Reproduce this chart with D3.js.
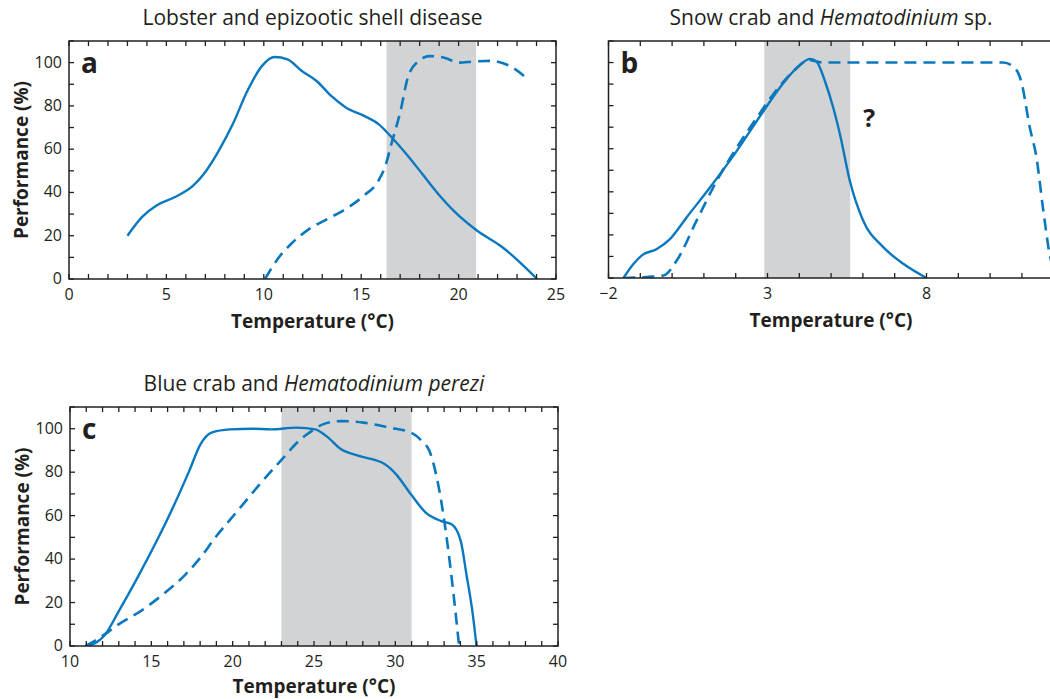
<!DOCTYPE html>
<html>
<head>
<meta charset="utf-8">
<script src="https://cdn.jsdelivr.net/npm/d3@7"></script>
<style>
  body { margin: 0; background: #fff; }
  svg { display: block; font-family: 'Open Sans', 'Noto Sans', sans-serif; }
</style>
</head>
<body>
<div id="chart"></div>
<script>
// panel a: lobster (solid) and epizootic shell disease (dashed)
const lobsterTemp = [3, 3.74, 4.49, 5.42, 6.36, 6.92, 7.67, 8.41, 9.16, 9.91, 10.56, 11.22, 11.97, 12.71, 13.46, 14.21, 15.15, 15.89, 16.64, 17.39, 18.14, 18.89, 19.82, 20.94, 22.25, 24.03];
const lobsterPerf = [20, 28.6, 34, 37.8, 43, 48.5, 59, 71.6, 87, 98.5, 102.6, 101.5, 96, 91.5, 84.6, 79.3, 75.4, 71.6, 64.7, 57, 48.5, 40, 30.9, 22.4, 14.7, 0];
const shellTemp = [10.06, 10.66, 11.41, 12.34, 13.28, 14.21, 15.15, 15.89, 16.27, 16.55, 17.02, 17.39, 17.95, 18.51, 19.26, 20.01, 20.76, 21.69, 22.62, 23.56];
const shellPerf = [0, 8.6, 16.3, 23.2, 27.8, 32.4, 38.6, 45.5, 53.1, 62.4, 77.7, 93, 100.8, 103, 102.3, 100, 100.5, 100.8, 98.5, 92.3];

// panel b: snow crab (solid) and Hematodinium sp. (dashed)
const snowTemp = [-1.53, -1.21, -0.95, -0.48, -0.06, 0.46, 1.19, 2.03, 2.87, 3.5, 4.02, 4.34, 4.54, 4.81, 5.07, 5.28, 5.59, 6.01, 6.64, 7.27, 8.0];
const snowPerf = [0, 6.6, 10.5, 13.5, 18.2, 28.2, 42, 58.9, 77.4, 90.5, 98.9, 101.7, 100.5, 91.2, 78.9, 66.6, 45, 26.6, 14.3, 6.6, 0];
const hemaTemp = [-1.53, -0.8, -0.27, 0.15, 0.77, 1.4, 2.03, 2.66, 3.29, 3.92, 4.28, 4.75, 6.22, 8.31, 10.41, 10.72, 10.98, 11.25, 11.46, 11.66, 11.87, 12.1];
const hemaPerf = [0, 0.5, 1.2, 8.2, 26.6, 45, 60.5, 74.3, 87.4, 97.4, 101.2, 100, 100, 100, 100, 98.2, 91.2, 69.7, 55.8, 32.8, 11.2, 0];

// panel c: blue crab (solid) and Hematodinium perezi (dashed)
const blueTemp = [10.96, 11.64, 12.1, 13.01, 14.15, 15.28, 16.42, 17.33, 18.02, 18.7, 19.84, 21.21, 22.35, 23.94, 25.08, 25.76, 26.67, 27.81, 29.36, 30.05, 30.96, 31.87, 32.78, 33.46, 34.02, 34.37, 34.76, 34.99];
const bluePerf = [0, 1.7, 4.7, 16.2, 31.5, 47.6, 65.2, 80.6, 92.8, 98.2, 99.7, 100, 99.7, 100.5, 99.7, 96.6, 90.5, 87.4, 83.6, 79, 69.8, 61.4, 57.6, 56, 48.4, 33, 14.7, 0];
const perezTemp = [10.96, 11.87, 13.01, 14.37, 15.74, 17.11, 18.02, 18.93, 20.3, 21.66, 23.03, 24.17, 24.85, 25.54, 26.67, 28.04, 29.63, 30.96, 31.64, 32.1, 32.55, 33.01, 33.46, 33.92];
const perezPerf = [0, 4, 10.1, 16.2, 23.9, 33, 40.7, 49.9, 62.2, 74.4, 85.9, 95.1, 98.9, 102, 103.5, 102.8, 100.5, 98.2, 94.3, 89.7, 77.5, 57.6, 31.5, 0];

const xDomains = { a: [0, 25], b: [-2, 12.5], c: [10, 40] };
const xLabelTicks = { a: [0, 5, 10, 15, 20, 25], b: [-2, 3, 8], c: [10, 15, 20, 25, 30, 35, 40] };
const yDomain = [0, 110];
const yLabelTicks = [0, 20, 40, 60, 80, 100];
const shadeBands = { a: [16.3, 20.9], b: [2.9, 5.6], c: [23, 31] };

const width = 1050, height = 699;
const blue = '#0a78bf', ink = '#231f20', shade = '#d1d3d4';

const panels = [
  { id: 'a', title: ['Lobster and epizootic shell disease'], box: [69, 556, 41, 279], yLabels: true,
    host: [lobsterTemp, lobsterPerf], parasite: [shellTemp, shellPerf] },
  { id: 'b', title: ['Snow crab and ', 'Hematodinium', ' sp.'], box: [608.5, 1069.6, 41, 278], yLabels: false,
    host: [snowTemp, snowPerf], parasite: [hemaTemp, hemaPerf], question: [6.2, 70], titleX: 831 },
  { id: 'c', title: ['Blue crab and ', 'Hematodinium perezi'], box: [70, 558, 407, 646], yLabels: true,
    host: [blueTemp, bluePerf], parasite: [perezTemp, perezPerf] }
];

const svg = d3.select('#chart').append('svg')
    .attr('width', width)
    .attr('height', height);

svg.append('defs').selectAll('clipPath')
    .data(panels)
  .enter().append('clipPath')
    .attr('id', d => `clip-${d.id}`)
  .append('rect')
    .attr('x', d => d.box[0])
    .attr('y', d => d.box[2])
    .attr('width', d => d.box[1] - d.box[0])
    .attr('height', d => d.box[3] - d.box[2]);

panels.forEach(p => {
  const [left, right, top, bottom] = p.box;
  const x = d3.scaleLinear().domain(xDomains[p.id]).range([left, right]);
  const y = d3.scaleLinear().domain(yDomain).range([bottom, top]);
  const g = svg.append('g').attr('class', `panel panel-${p.id}`);
  const midX = p.titleX || (left + right) / 2;

  // grey band
  g.append('rect')
      .attr('x', x(shadeBands[p.id][0]))
      .attr('y', top)
      .attr('width', x(shadeBands[p.id][1]) - x(shadeBands[p.id][0]))
      .attr('height', bottom - top)
      .attr('fill', shade);

  const line = d3.line()
      .x(d => x(d[0]))
      .y(d => y(d[1]))
      .curve(d3.curveMonotoneX);

  const plot = g.append('g').attr('clip-path', `url(#clip-${p.id})`);
  plot.append('path')
      .datum(d3.zip(p.parasite[0], p.parasite[1]))
      .attr('d', line)
      .attr('fill', 'none')
      .attr('stroke', blue)
      .attr('stroke-width', 2.6)
      .attr('stroke-dasharray', '12,7');
  plot.append('path')
      .datum(d3.zip(p.host[0], p.host[1]))
      .attr('d', line)
      .attr('fill', 'none')
      .attr('stroke', blue)
      .attr('stroke-width', 2.4);

  // minor ticks on all four sides, pointing inward
  const xMinor = d3.range(Math.ceil(xDomains[p.id][0]), xDomains[p.id][1] + 0.01, 1);
  const yMinor = d3.range(0, 111, 10);
  const tickLen = 5;
  const ticks = g.append('g').attr('stroke', ink).attr('stroke-width', 1.3);
  xMinor.forEach(v => {
    ticks.append('line').attr('x1', x(v)).attr('x2', x(v)).attr('y1', bottom).attr('y2', bottom - tickLen);
    ticks.append('line').attr('x1', x(v)).attr('x2', x(v)).attr('y1', top).attr('y2', top + tickLen);
  });
  yMinor.forEach(v => {
    ticks.append('line').attr('x1', left).attr('x2', left + tickLen).attr('y1', y(v)).attr('y2', y(v));
    ticks.append('line').attr('x1', right).attr('x2', right - tickLen).attr('y1', y(v)).attr('y2', y(v));
  });

  g.append('rect')
      .attr('x', left)
      .attr('y', top)
      .attr('width', right - left)
      .attr('height', bottom - top)
      .attr('fill', 'none')
      .attr('stroke', ink)
      .attr('stroke-width', 1.5);

  // tick labels
  g.append('g').selectAll('text')
      .data(xLabelTicks[p.id])
    .enter().append('text')
      .attr('x', d => x(d))
      .attr('y', bottom + 21)
      .attr('text-anchor', 'middle')
      .attr('font-size', 16)
      .attr('fill', ink)
      .text(d => d < 0 ? `\u2212${-d}` : d);

  if (p.yLabels) {
    g.append('g').selectAll('text')
        .data(yLabelTicks)
      .enter().append('text')
        .attr('x', left - 7)
        .attr('y', d => y(d) + 5)
        .attr('text-anchor', 'end')
        .attr('font-size', 16)
        .attr('fill', ink)
        .text(d => d);

    g.append('text')
        .attr('transform', `translate(${left - 41},${(top + bottom) / 2}) rotate(-90)`)
        .attr('text-anchor', 'middle')
        .attr('font-size', 19)
        .attr('font-weight', 'bold')
        .attr('fill', ink)
        .text('Performance (%)');
  }

  g.append('text')
      .attr('x', midX)
      .attr('y', Math.min(bottom + 49, height - 6))
      .attr('text-anchor', 'middle')
      .attr('font-size', 19)
      .attr('font-weight', 'bold')
      .attr('fill', ink)
      .text('Temperature (°C)');

  const title = g.append('text')
      .attr('x', midX)
      .attr('y', top - 16)
      .attr('text-anchor', 'middle')
      .attr('font-size', 21)
      .attr('fill', ink);
  p.title.forEach((s, i) => {
    title.append('tspan')
        .attr('font-style', i % 2 === 1 ? 'italic' : 'normal')
        .text(s);
  });

  g.append('text')
      .attr('x', left + 12)
      .attr('y', top + 32)
      .attr('font-size', 28)
      .attr('font-weight', 'bold')
      .attr('fill', ink)
      .text(p.id);

  if (p.question) {
    g.append('text')
        .attr('x', x(p.question[0]))
        .attr('y', y(p.question[1]))
        .attr('text-anchor', 'middle')
        .attr('font-size', 25)
        .attr('font-weight', 'bold')
        .attr('fill', ink)
        .text('?');
  }
});
</script>
</body>
</html>
